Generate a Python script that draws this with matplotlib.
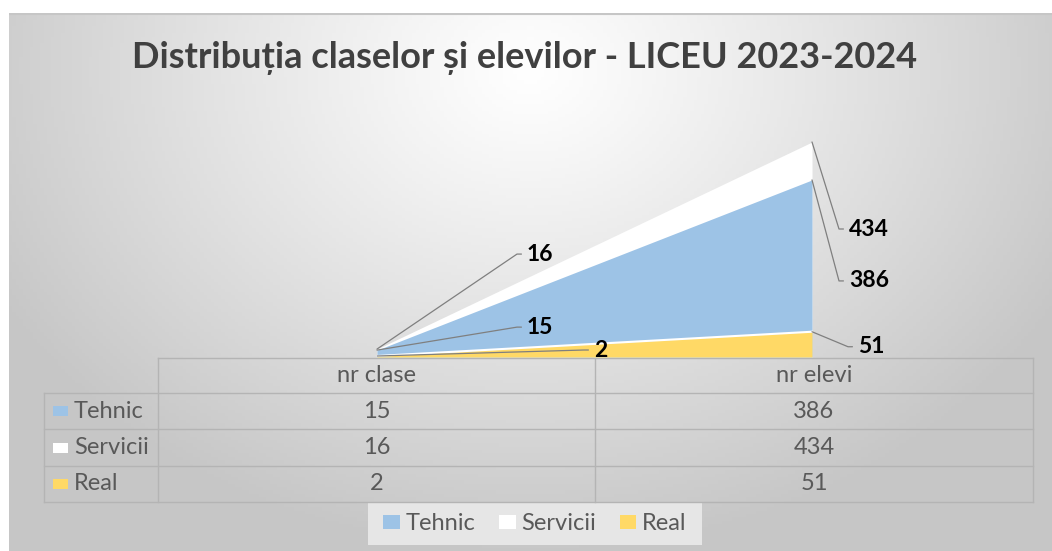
import math
import matplotlib
matplotlib.use('Agg')
import matplotlib.pyplot as plt
import numpy as np
from matplotlib.patches import Rectangle, Patch

plt.rcParams['font.family'] = ['Lato', 'DejaVu Sans']

# data
title = 'Distribuția claselor și elevilor - LICEU 2023-2024'
categories = ['nr clase', 'nr elevi']
series_names = ['Tehnic', 'Servicii', 'Real']
tehnic = [15, 386]
servicii = [16, 434]
real = [2, 51]

colors = {'Tehnic': '#9dc3e6', 'Servicii': '#ffffff', 'Real': '#ffd966'}
values = {'Tehnic': tehnic, 'Servicii': servicii, 'Real': real}
# perspective of the 3D area: deeper series look a bit shorter
depth_scale = {'Servicii': 1.0, 'Tehnic': 0.926, 'Real': 1.0}

W, H = 1052, 551
fig = plt.figure(figsize=(W / 100, H / 100), dpi=100)
fig.patch.set_facecolor('white')

# radial grey gradient background of the chart area
bg = fig.add_axes([9 / W, 0, 1 - 9 / W, (H - 13) / H])
gx, gy = np.meshgrid(np.linspace(9, W, 300), np.linspace(13, H, 160))
r = np.sqrt(((gx - 530) / 600) ** 2 + ((gy - 70) / 480) ** 2)
r = np.clip(r, 0, 1)
shade = 1.0 - (1.0 - 0.78) * r ** 1.1
bg.imshow(np.dstack([shade] * 3), extent=(9, W, H, 13), aspect='auto')
bg.axis('off')
bg.plot([9, W], [13.5, 13.5], color='#c6c6c6', lw=1.5)
bg.set_xlim(9, W)
bg.set_ylim(H, 13)

# overlay in pixel coordinates for table and legend
ov = fig.add_axes([0, 0, 1, 1], zorder=2)
ov.set_xlim(0, W)
ov.set_ylim(H, 0)
ov.axis('off')
ov.patch.set_alpha(0)

ov.text(525, 58, title, ha='center', va='center', fontsize=26,
        fontweight='bold', color='#404040')

# area chart (front-on view of the 3D area), one axes per series depth
x0, x1, base, top = 377, 812, 357, 142
xs = np.arange(len(categories))
# label offsets in pixels (text left-centre relative to the point)
offsets = {
    'Servicii': [(150, 95), (37, -87)],
    'Tehnic': [(150, 23), (37, -101)],
    'Real': [(217, 6), (46, -15)],
}
gap = 10
for k, name in enumerate(['Servicii', 'Tehnic', 'Real']):
    ax = fig.add_axes([x0 / W, (H - base) / H, (x1 - x0) / W, (base - top) / H],
                      zorder=3 + k)
    ax.set_xlim(0, 1)
    ax.set_ylim(0, max(servicii) / depth_scale[name])
    ax.axis('off')
    ax.patch.set_alpha(0)
    ax.fill_between(xs, 0, values[name], color=colors[name], lw=0, clip_on=False)
    if name == 'Real':
        ax.plot(xs, values[name], color='white', lw=1.5, clip_on=False)
    for i, v in enumerate(values[name]):
        dx, dy = offsets[name][i]
        ang = math.degrees(math.atan2(dy, dx - gap))
        ax.annotate(str(v), xy=(xs[i], v), xytext=(dx, dy), textcoords='offset pixels',
                    ha='left', va='center', fontsize=16.5, fontweight='bold', color='black',
                    annotation_clip=False, zorder=10,
                    arrowprops=dict(arrowstyle='-', color='#7f7f7f', lw=0.9,
                                    connectionstyle=f'angle,angleA=0,angleB={ang},rad=0',
                                    relpos=(0, 0.5), shrinkA=2, shrinkB=0))

# data table
line_c = '#b4b4b4'
txt_c = '#595959'
col_x = [44, 158, 595, 1033]
row_y = [358, 393, 429, 466, 502]
ov.plot([col_x[1], col_x[-1]], [row_y[0], row_y[0]], color=line_c, lw=1)
for y in row_y[1:]:
    ov.plot([col_x[0], col_x[-1]], [y, y], color=line_c, lw=1)
for x in col_x[1:]:
    ov.plot([x, x], [row_y[0], row_y[-1]], color=line_c, lw=1)
ov.plot([col_x[0], col_x[0]], [row_y[1], row_y[-1]], color=line_c, lw=1)

for j, cat in enumerate(categories):
    cx = (col_x[j + 1] + col_x[j + 2]) / 2
    ov.text(cx, (row_y[0] + row_y[1]) / 2, cat, ha='center', va='center',
            fontsize=17, color=txt_c)
for i, name in enumerate(series_names):
    cy = (row_y[i + 1] + row_y[i + 2]) / 2
    ov.add_patch(Rectangle((53, cy - 5), 15, 10, color=colors[name], lw=0))
    ov.text(74, cy, name, ha='left', va='center', fontsize=17, color=txt_c)
    for j, v in enumerate(values[name]):
        cx = (col_x[j + 1] + col_x[j + 2]) / 2
        ov.text(cx, cy, str(v), ha='center', va='center', fontsize=17, color=txt_c)

# legend
ov.add_patch(Rectangle((368, 503), 334, 42, color='#e6e6e6', lw=0))
handles = [Patch(facecolor=colors[n], edgecolor='none', label=n) for n in series_names]
leg = fig.legend(handles=handles, loc='center', bbox_to_anchor=(535 / W, 1 - 524 / H),
                 ncol=3, frameon=False, fontsize=17, handlelength=0.7,
                 handleheight=0.5, handletextpad=0.25, columnspacing=1.0,
                 labelcolor=txt_c)

fig.savefig('out.png', dpi=100)
